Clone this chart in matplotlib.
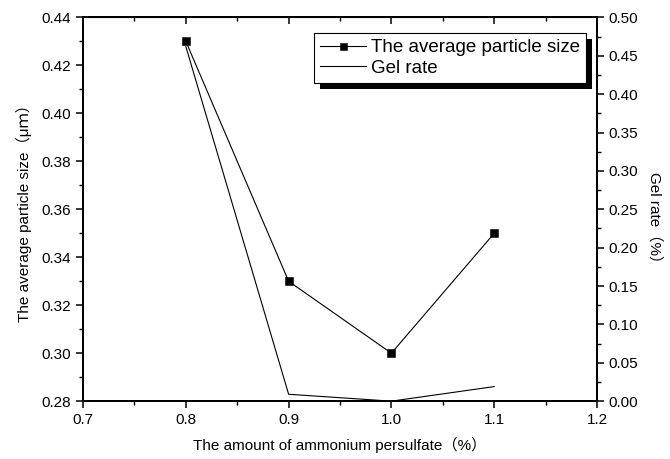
import matplotlib
matplotlib.use("Agg")
import matplotlib.pyplot as plt
from matplotlib.patches import Rectangle
from matplotlib.transforms import IdentityTransform
from matplotlib.ticker import MultipleLocator

plt.rcParams['font.family'] = ['Liberation Sans', 'Noto Sans CJK SC', 'DejaVu Sans']

# data
amount = [0.8, 0.9, 1.0, 1.1]
particle_size = [0.43, 0.33, 0.30, 0.35]
gel_rate = [0.462, 0.009, 0.0, 0.019]

fig = plt.figure(figsize=(6.7, 4.59), dpi=100)
ax = fig.add_axes([0.124, 0.126, 0.767, 0.836])
ax2 = ax.twinx()
ax.patch.set_visible(False)
ax2.patch.set_visible(False)

l1, = ax.plot(amount, particle_size, color='black', lw=0.8, marker='s',
              markersize=6.3, markeredgewidth=0.4, label='The average particle size')
l2, = ax2.plot(amount, gel_rate, color='black', lw=0.8, label='Gel rate')

ax.set_xlim(0.7, 1.2)
ax.set_ylim(0.28, 0.44)
ax2.set_ylim(0.0, 0.5)

ax.xaxis.set_major_locator(MultipleLocator(0.1))
ax.xaxis.set_minor_locator(MultipleLocator(0.05))
ax.yaxis.set_major_locator(MultipleLocator(0.02))
ax.yaxis.set_minor_locator(MultipleLocator(0.01))
ax2.yaxis.set_major_locator(MultipleLocator(0.05))
ax2.yaxis.set_minor_locator(MultipleLocator(0.025))
ax.xaxis.set_major_formatter(plt.FormatStrFormatter('%.1f'))
ax.yaxis.set_major_formatter(plt.FormatStrFormatter('%.2f'))
ax2.yaxis.set_major_formatter(plt.FormatStrFormatter('%.2f'))

for a in (ax, ax2):
    for s in a.spines.values():
        s.set_linewidth(1.3)
    a.tick_params(which='major', length=5, width=1.1, labelsize=11, direction='out')
    a.tick_params(which='minor', length=3, width=1.0, direction='out')

# mirrored ticks on top, pointing in
secx = ax.secondary_xaxis('top')
secx.xaxis.set_major_locator(MultipleLocator(0.1))
secx.xaxis.set_minor_locator(MultipleLocator(0.05))
secx.tick_params(which='major', direction='in', length=5, width=1.1, labeltop=False)
secx.tick_params(which='minor', direction='in', length=3, width=1.0)

ax.set_xlabel('The amount of ammonium persulfate（%）', fontsize=11, labelpad=7)
ax.set_ylabel('The average particle size（μｍ）', fontsize=11, labelpad=7)
ax2.set_ylabel('Gel rate（%）', fontsize=11, rotation=270)
ax2.yaxis.set_label_coords(1.127, 0.469)

leg = ax2.legend([l1, l2], ['The average particle size', 'Gel rate'],
                 loc='upper right', bbox_to_anchor=(0.9786, 0.9596),
                 borderaxespad=0, fontsize=13.5, fancybox=False, framealpha=1,
                 edgecolor='black', handlelength=2.45, handletextpad=0.25,
                 borderpad=0.32, labelspacing=0.18, markerscale=0.8)
leg.get_frame().set_linewidth(0.8)

fig.canvas.draw()
bb = leg.get_window_extent()
shadow = Rectangle((bb.x0 + 6, bb.y0 - 6), bb.width, bb.height,
                   transform=IdentityTransform(), facecolor='black',
                   edgecolor='none', zorder=-1)
fig.add_artist(shadow)

fig.savefig('out.png', dpi=100)
